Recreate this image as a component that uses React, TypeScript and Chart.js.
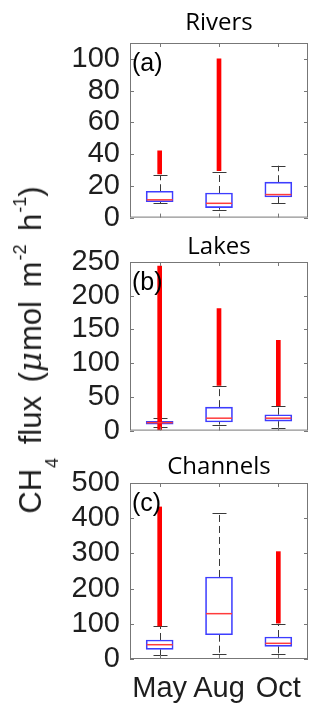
import React, { useEffect, useRef } from "react";
import { Chart, registerables } from "chart.js";

Chart.register(...registerables);

// ---------- data ----------
const months = ["May", "Aug", "Oct"];

// Rivers (a)
const riversQ1 = [10, 6.3, 13];
const riversMedian = [11.2, 9, 14.5];
const riversQ3 = [16.6, 15.5, 22.3];
const riversLowWhisker = [9, 5, 9];
const riversHighWhisker = [26.6, 28.6, 32.7];
const riversOutliers: ([number, number] | null)[] = [[27.5, 42], [29.5, 100], null];

// Lakes (b)
const lakesQ1 = [9.4, 12.7, 14];
const lakesMedian = [11.8, 18.4, 18.4];
const lakesQ3 = [13.6, 34.8, 23.5];
const lakesLowWhisker = [4.7, 9, 3.7];
const lakesHighWhisker = [19.3, 65.6, 35.8];
const lakesOutliers: ([number, number] | null)[] = [[1, 244], [67, 181], [37, 134]];

// Channels (c)
const channelsQ1 = [27.5, 69, 36];
const channelsMedian = [40.6, 128.8, 44.5];
const channelsQ3 = [54, 233, 62.5];
const channelsLowWhisker = [10.4, 15, 15];
const channelsHighWhisker = [92.8, 415, 100];
const channelsOutliers: ([number, number] | null)[] = [[94, 432], null, [102, 305]];

// axis limits / tick steps
const riversYMax = 110;
const riversYStep = 20;
const lakesYMax = 250;
const lakesYStep = 50;
const channelsYMax = 500;
const channelsYStep = 100;

// ---------- layout ----------
type Panel = {
  key: string;
  title: string;
  tag: string;
  top: number;
  height: number;
  padBottom: number;
  titlePadTop: number;
  titlePadBottom: number;
  yMax: number;
  yStep: number;
  showX: boolean;
  q1: number[];
  median: number[];
  q3: number[];
  lowWhisker: number[];
  highWhisker: number[];
  outliers: ([number, number] | null)[];
};

const panels: Panel[] = [
  {
    key: "a", title: "Rivers", tag: "(a)", top: 0, height: 245, padBottom: 24,
    titlePadTop: 9, titlePadBottom: 5.2, yMax: riversYMax, yStep: riversYStep, showX: false,
    q1: riversQ1, median: riversMedian, q3: riversQ3, lowWhisker: riversLowWhisker,
    highWhisker: riversHighWhisker, outliers: riversOutliers,
  },
  {
    key: "b", title: "Lakes", tag: "(b)", top: 232, height: 226, padBottom: 19,
    titlePadTop: 1.1, titlePadBottom: 0.1, yMax: lakesYMax, yStep: lakesYStep, showX: false,
    q1: lakesQ1, median: lakesMedian, q3: lakesQ3, lowWhisker: lakesLowWhisker,
    highWhisker: lakesHighWhisker, outliers: lakesOutliers,
  },
  {
    key: "c", title: "Channels", tag: "(c)", top: 450, height: 265, padBottom: 6,
    titlePadTop: 2.6, titlePadBottom: 1.6, yMax: channelsYMax, yStep: channelsYStep, showX: true,
    q1: channelsQ1, median: channelsMedian, q3: channelsQ3, lowWhisker: channelsLowWhisker,
    highWhisker: channelsHighWhisker, outliers: channelsOutliers,
  },
];

const ARIAL = "'Liberation Sans', Arial, sans-serif";
const TEXT = "#1e1e1e";

function makeBoxPlugin(p: Panel) {
  return {
    id: "boxExtras" + p.key,
    beforeDatasetsDraw(chart: any) {
      const { ctx, scales } = chart;
      const x = scales.x;
      const y = scales.y;
      ctx.save();
      ctx.strokeStyle = "#3a3a3a";
      ctx.lineWidth = 1;
      p.q1.forEach((_, i) => {
        const cx = Math.round(x.getPixelForValue(i)) + 0.5;
        ctx.setLineDash([7, 4]);
        ctx.beginPath();
        ctx.moveTo(cx, y.getPixelForValue(p.q3[i]));
        ctx.lineTo(cx, y.getPixelForValue(p.highWhisker[i]));
        ctx.moveTo(cx, y.getPixelForValue(p.q1[i]));
        ctx.lineTo(cx, y.getPixelForValue(p.lowWhisker[i]));
        ctx.stroke();
        ctx.setLineDash([]);
        ctx.beginPath();
        for (const v of [p.highWhisker[i], p.lowWhisker[i]]) {
          const py = Math.round(y.getPixelForValue(v)) + 0.5;
          ctx.moveTo(cx - 7, py);
          ctx.lineTo(cx + 7, py);
        }
        ctx.stroke();
      });
      ctx.restore();
    },
    afterDatasetsDraw(chart: any) {
      const { ctx, scales, chartArea: a } = chart;
      const x = scales.x;
      const y = scales.y;
      ctx.save();
      // medians
      ctx.strokeStyle = "#ff3b3b";
      ctx.lineWidth = 1.5;
      p.median.forEach((m, i) => {
        const cx = x.getPixelForValue(i);
        const py = y.getPixelForValue(m);
        ctx.beginPath();
        ctx.moveTo(cx - 13, py);
        ctx.lineTo(cx + 13, py);
        ctx.stroke();
      });
      // frame
      ctx.strokeStyle = "#777777";
      ctx.lineWidth = 1;
      ctx.strokeRect(a.left + 0.5, a.top + 0.5, a.right - a.left - 1, a.bottom - a.top - 1);
      // inward ticks
      ctx.beginPath();
      y.ticks.forEach((t: any) => {
        const py = Math.round(y.getPixelForValue(t.value)) + 0.5;
        ctx.moveTo(a.left, py);
        ctx.lineTo(a.left + 4, py);
        ctx.moveTo(a.right, py);
        ctx.lineTo(a.right - 4, py);
      });
      months.forEach((_, i) => {
        const cx = Math.round(x.getPixelForValue(i)) + 0.5;
        ctx.moveTo(cx, a.top);
        ctx.lineTo(cx, a.top + 4);
        ctx.moveTo(cx, a.bottom);
        ctx.lineTo(cx, a.bottom - 4);
      });
      ctx.stroke();
      // panel tag
      ctx.fillStyle = "#000";
      ctx.font = `25px ${ARIAL}`;
      ctx.textBaseline = "middle";
      ctx.textAlign = "left";
      ctx.fillText(p.tag, a.left + 2, a.top + 21);
      ctx.restore();
    },
  };
}

function PanelChart({ p }: { p: Panel }) {
  const ref = useRef<HTMLCanvasElement>(null);
  useEffect(() => {
    const chart = new Chart(ref.current as HTMLCanvasElement, {
      type: "bar",
      data: {
        labels: months,
        datasets: [
          {
            data: p.outliers as any,
            backgroundColor: "#ff0000",
            borderWidth: 0,
            barThickness: 4,
            grouped: false,
            order: 0,
          } as any,
          {
            data: p.q1.map((v, i) => [v, p.q3[i]]) as any,
            backgroundColor: "rgba(0,0,0,0)",
            borderColor: "#3d3dff",
            borderWidth: 1,
            borderSkipped: false,
            barThickness: 27,
            grouped: false,
            order: 1,
          } as any,
        ],
      },
      options: {
        responsive: false,
        animation: false,
        devicePixelRatio: 1,
        layout: { padding: { left: 0, right: 12, top: 0, bottom: p.padBottom } },
        plugins: {
          legend: { display: false },
          tooltip: { enabled: false },
          title: {
            display: true,
            text: p.title,
            fullSize: false,
            color: "#000",
            font: { family: "'Open Sans', sans-serif", size: 24, weight: "normal", lineHeight: 1.2 },
            padding: { top: p.titlePadTop, bottom: p.titlePadBottom },
          },
        },
        scales: {
          x: {
            display: p.showX,
            offset: true,
            grid: { display: false, drawTicks: false },
            border: { display: false },
            ticks: { font: { family: ARIAL, size: 29 }, color: TEXT, padding: 13, maxRotation: 0 },
            afterFit: (s: any) => {
              s.height = p.showX ? 50 : 0;
            },
          },
          y: {
            min: 0,
            max: p.yMax,
            grid: { display: false, drawTicks: false },
            border: { display: false },
            ticks: {
              stepSize: p.yStep,
              includeBounds: false,
              autoSkip: false,
              font: { family: ARIAL, size: 29 },
              color: TEXT,
              padding: 10,
            },
            afterFit: (s: any) => {
              s.width = 130;
            },
          },
        },
      } as any,
      plugins: [makeBoxPlugin(p)],
    });
    return () => chart.destroy();
  }, [p]);
  return (
    <canvas
      ref={ref}
      width={320}
      height={p.height}
      style={{ position: "absolute", left: 0, top: p.top, width: 320, height: p.height }}
    />
  );
}

export default function App() {
  const sub: React.CSSProperties = { position: "relative", top: 17, fontSize: 18, marginLeft: 1 };
  const sup: React.CSSProperties = { position: "relative", top: -15, fontSize: 18, marginLeft: 1 };
  return (
    <div style={{ position: "absolute", left: 0, top: 0, width: 320, height: 715, background: "#fff", overflow: "hidden" }}>
      {panels.map((p) => (
        <PanelChart key={p.key} p={p} />
      ))}
      <div
        style={{
          position: "absolute",
          left: 33,
          top: 350,
          transform: "translate(-50%, -50%) rotate(-90deg)",
          whiteSpace: "nowrap",
          font: `31px ${ARIAL}`,
          lineHeight: "31px",
          wordSpacing: 5,
          color: TEXT,
        }}
      >
        CH<span style={sub}>4</span> flux (<span style={{ fontStyle: "italic", fontFamily: "'DejaVu Serif', serif", marginRight: 1 }}>μ</span>mol m<span style={sup}>-2</span> h<span style={sup}>-1</span>)
      </div>
    </div>
  );
}
